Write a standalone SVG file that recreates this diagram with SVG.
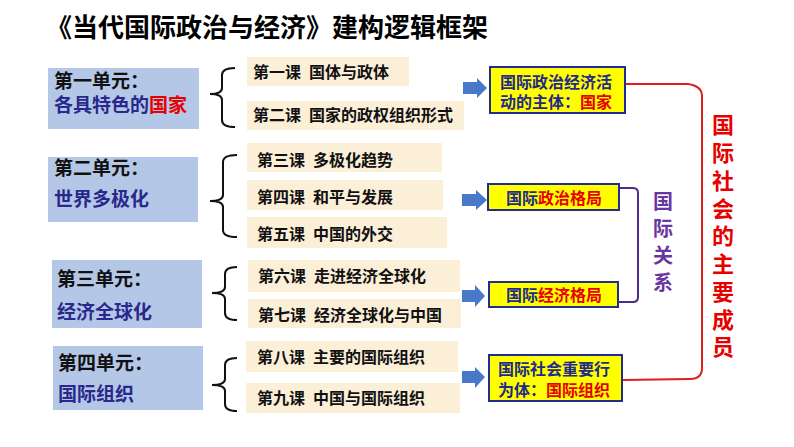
<svg xmlns="http://www.w3.org/2000/svg" width="794" height="447" viewBox="0 0 794 447">
<style>
text{font-family:"Noto Sans CJK SC","Noto Sans",sans-serif;font-weight:bold;}
.unit{fill:#B4C7E7;}
.lesson{fill:#FCEFD8;}
.ut{font-size:19px;fill:#111;}
.ub{fill:#29288C;}
.lt{font-size:16px;fill:#111;}
.yb{fill:#FFFF00;stroke:#1F2E8F;stroke-width:2;}
.yt{font-size:16px;fill:#1F2A8A;}
.red{fill:#E60000;}
.brace{fill:none;stroke:#111;stroke-width:2;}
.arrow{fill:#4A78C8;}
.rel{font-size:20px;fill:#6A35A0;writing-mode:vertical-rl;letter-spacing:7px;}
.mem{font-size:22px;fill:#E60000;writing-mode:vertical-rl;letter-spacing:5.75px;}
</style>
<rect width="794" height="447" fill="#fff"/>
<text x="46" y="37" font-size="26" fill="#000">《当代国际政治与经济》建构逻辑框架</text>

<g id="unit1"><rect class="unit" x="48" y="68" width="151" height="61"/><text class="ut" x="54" y="88">第一单元：<tspan class="ub" x="54" y="112">各具特色的</tspan><tspan class="red">国家</tspan></text></g>
<g id="unit2"><rect class="unit" x="48" y="157" width="150" height="65"/><text class="ut" x="54" y="175">第二单元：<tspan class="ub" x="54" y="206">世界多极化</tspan></text></g>
<g id="unit3"><rect class="unit" x="52" y="260" width="150" height="68"/><text class="ut" x="57" y="286">第三单元：<tspan class="ub" x="57" y="319">经济全球化</tspan></text></g>
<g id="unit4"><rect class="unit" x="53" y="346" width="150" height="64"/><text class="ut" x="58" y="370">第四单元：<tspan class="ub" x="58" y="401">国际组织</tspan></text></g>

<g id="lesson1"><rect class="lesson" x="247" y="57" width="162" height="29"/><text class="lt" x="253" y="78">第一课<tspan dx="8">国体与政体</tspan></text></g>
<g id="lesson2"><rect class="lesson" x="247" y="101" width="217" height="29"/><text class="lt" x="253" y="121">第二课<tspan dx="8">国家的政权组织形式</tspan></text></g>
<g id="lesson3"><rect class="lesson" x="247" y="143" width="195" height="29"/><text class="lt" x="257" y="166">第三课<tspan dx="8">多极化趋势</tspan></text></g>
<g id="lesson4"><rect class="lesson" x="247" y="180" width="196" height="30"/><text class="lt" x="257" y="203">第四课<tspan dx="8">和平与发展</tspan></text></g>
<g id="lesson5"><rect class="lesson" x="247" y="217" width="200" height="31"/><text class="lt" x="257" y="240">第五课<tspan dx="8">中国的外交</tspan></text></g>
<g id="lesson6"><rect class="lesson" x="248" y="260" width="212" height="32"/><text class="lt" x="258" y="282">第六课<tspan dx="8">走进经济全球化</tspan></text></g>
<g id="lesson7"><rect class="lesson" x="248" y="299" width="213" height="29"/><text class="lt" x="258" y="321">第七课<tspan dx="8">经济全球化与中国</tspan></text></g>
<g id="lesson8"><rect class="lesson" x="246" y="341" width="212" height="31"/><text class="lt" x="257" y="363">第八课<tspan dx="8">主要的国际组织</tspan></text></g>
<g id="lesson9"><rect class="lesson" x="246" y="383" width="214" height="30"/><text class="lt" x="257" y="404">第九课<tspan dx="8">中国与国际组织</tspan></text></g>

<g id="result1"><rect class="yb" x="490" y="67" width="135" height="46"/><text class="yt" x="500" y="88">国际政治经济活<tspan x="500" y="108">动的主体：</tspan><tspan class="red">国家</tspan></text></g>
<g id="result2"><rect class="yb" x="488" y="184" width="131" height="26"/><text class="yt" x="554" y="204" text-anchor="middle">国际<tspan class="red">政治格局</tspan></text></g>
<g id="result3"><rect class="yb" x="489" y="282" width="129" height="25"/><text class="yt" x="554" y="301" text-anchor="middle">国际<tspan class="red">经济格局</tspan></text></g>
<g id="result4"><rect class="yb" x="489" y="355" width="133" height="46"/><text class="yt" x="498" y="375">国际社会重要行<tspan x="498" y="396">为体：</tspan><tspan class="red">国际组织</tspan></text></g>

<g id="label-relations"><text class="rel" x="663" y="191">国际关系</text></g>
<g id="label-members"><text class="mem" x="723" y="114">国际社会的主要成员</text></g>

<g id="connectors">
<path class="brace" d="M235,68 Q222,68 222,75 L222,88 Q222,94 210,94 Q222,94 222,100 L222,120 Q222,127 235,127"/>
<path class="brace" d="M237,155 Q223,155 223,162 L223,195 Q223,201 210,201 Q223,201 223,207 L223,230 Q223,237 237,237"/>
<path class="brace" d="M237,267 Q225,267 225,274 L225,287 Q225,293 212,293 Q225,293 225,299 L225,313 Q225,320 237,320"/>
<path class="brace" d="M237,358 Q225,358 225,365 L225,379 Q225,385 212,385 Q225,385 225,391 L225,404 Q225,411 237,411"/>
<polygon class="arrow" points="463,82 477,82 477,78 487,88 477,98 477,94 463,94"/>
<polygon class="arrow" points="462,194 476,194 476,190 487,200 476,210 476,206 462,206"/>
<polygon class="arrow" points="462,290 475,290 475,285 485,296 475,307 475,302 462,302"/>
<polygon class="arrow" points="462,371 475,371 475,367 485,377 475,388 475,383 462,383"/>
<path d="M620,188 L633,188 Q638,188 638,193 L638,297 Q638,302 633,302 L619,302" fill="none" stroke="#4B2C8C" stroke-width="2"/>
<path d="M626,84 L688,84 Q702,86 702,96 L702,368 Q702,379 690,379 L623,380" fill="none" stroke="#E01E1E" stroke-width="2"/>
</g>
</svg>
